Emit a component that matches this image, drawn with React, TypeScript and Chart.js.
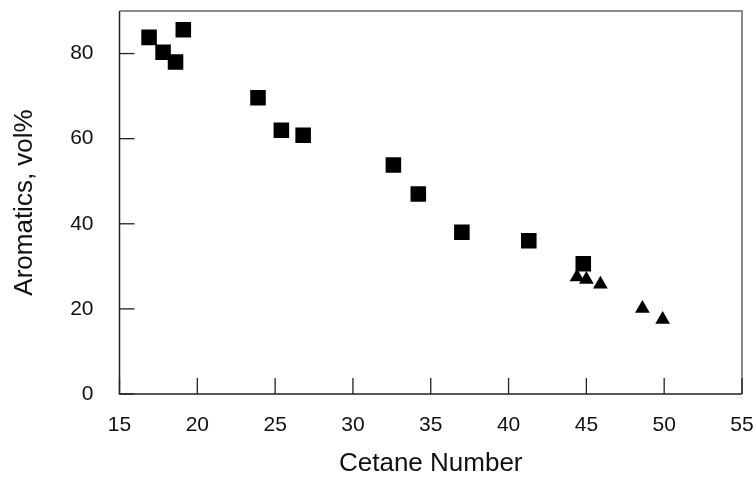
import React, { useEffect, useRef } from "react";
import { Chart, registerables } from "chart.js";

Chart.register(...registerables);

const squareX = [16.9, 17.8, 18.6, 19.1, 23.9, 25.4, 26.8, 32.6, 34.2, 37.0, 41.3, 44.8];
const squareY = [83.8, 80.3, 78.0, 85.6, 69.6, 62.0, 60.8, 53.8, 47.0, 38.0, 36.0, 30.6];
const triX = [44.4, 45.0, 45.9, 48.6, 49.9];
const triY = [27.5, 26.9, 25.8, 20.1, 17.5];
const xTicks = [15, 20, 25, 30, 35, 40, 45, 50, 55];
const yTicks = [0, 20, 40, 60, 80];

const FONT = "'Liberation Sans', Arial, Helvetica, sans-serif";

const framePlugin = {
  id: "frame",
  afterDraw(chart: any) {
    const { ctx, chartArea } = chart;
    const xs = chart.scales.x;
    const ys = chart.scales.y;
    ctx.save();
    ctx.strokeStyle = "#222";
    ctx.lineWidth = 1.5;
    ctx.beginPath();
    ctx.moveTo(chartArea.left, chartArea.top);
    ctx.lineTo(chartArea.left, chartArea.bottom);
    ctx.lineTo(chartArea.right, chartArea.bottom);
    ctx.stroke();
    ctx.strokeStyle = "#666";
    ctx.beginPath();
    ctx.moveTo(chartArea.left, chartArea.top);
    ctx.lineTo(chartArea.right, chartArea.top);
    ctx.lineTo(chartArea.right, chartArea.bottom);
    ctx.stroke();
    ctx.strokeStyle = "#222";
    ctx.lineWidth = 1.3;
    for (const v of xTicks) {
      const px = xs.getPixelForValue(v);
      ctx.beginPath();
      ctx.moveTo(px, chartArea.bottom);
      ctx.lineTo(px, chartArea.bottom - 16);
      ctx.stroke();
    }
    for (const v of yTicks) {
      const py = ys.getPixelForValue(v);
      ctx.beginPath();
      ctx.moveTo(chartArea.left, py);
      ctx.lineTo(chartArea.left + 15, py);
      ctx.stroke();
    }
    ctx.restore();
  },
};

export default function App() {
  const ref = useRef<HTMLCanvasElement | null>(null);
  useEffect(() => {
    if (!ref.current) return;
    const chart = new Chart(ref.current, {
      type: "scatter",
      data: {
        datasets: [
          {
            label: "squares",
            data: squareX.map((x, i) => ({ x, y: squareY[i] })),
            pointStyle: "rect",
            pointRadius: 11,
            backgroundColor: "#000",
            borderColor: "#000",
            borderWidth: 0,
          },
          {
            label: "triangles",
            data: triX.map((x, i) => ({ x, y: triY[i] })),
            pointStyle: "triangle",
            pointRadius: 8.5,
            backgroundColor: "#000",
            borderColor: "#000",
            borderWidth: 0,
          },
        ],
      },
      options: {
        responsive: false,
        animation: false,
        layout: { padding: { left: 0, right: 14, top: 10, bottom: 0 } },
        plugins: { legend: { display: false }, tooltip: { enabled: false } },
        scales: {
          x: {
            type: "linear",
            min: 15,
            max: 55,
            afterBuildTicks: (s: any) => {
              s.ticks = xTicks.map((v) => ({ value: v }));
            },
            afterFit: (s: any) => {
              s.height = 85;
              s.paddingLeft = 0;
              s.paddingRight = 0;
            },
            grid: { display: false, drawTicks: false },
            border: { display: false },
            ticks: {
              padding: 18.5,
              color: "#111",
              font: { family: FONT, size: 21 },
              maxRotation: 0,
            },
            title: {
              display: true,
              text: "Cetane Number",
              color: "#111",
              font: { family: FONT, size: 26 },
              padding: { top: 0, bottom: 0 },
            },
          },
          y: {
            type: "linear",
            min: 0,
            max: 90,
            afterBuildTicks: (s: any) => {
              s.ticks = yTicks.map((v) => ({ value: v }));
            },
            afterFit: (s: any) => {
              s.width = 119.5;
              s.paddingTop = 0;
              s.paddingBottom = 0;
            },
            grid: { display: false, drawTicks: false },
            border: { display: false },
            ticks: {
              padding: 26,
              color: "#111",
              font: { family: FONT, size: 21 },
            },
            title: {
              display: true,
              text: "Aromatics, vol%",
              color: "#111",
              font: { family: FONT, size: 26 },
              padding: { top: 9, bottom: 0 },
            },
          },
        },
      },
      plugins: [framePlugin],
    });
    return () => chart.destroy();
  }, []);
  return (
    <div style={{ position: "absolute", left: 0, top: 0, width: 756, height: 479, background: "#fff" }}>
      <canvas ref={ref} width={756} height={479} />
    </div>
  );
}
